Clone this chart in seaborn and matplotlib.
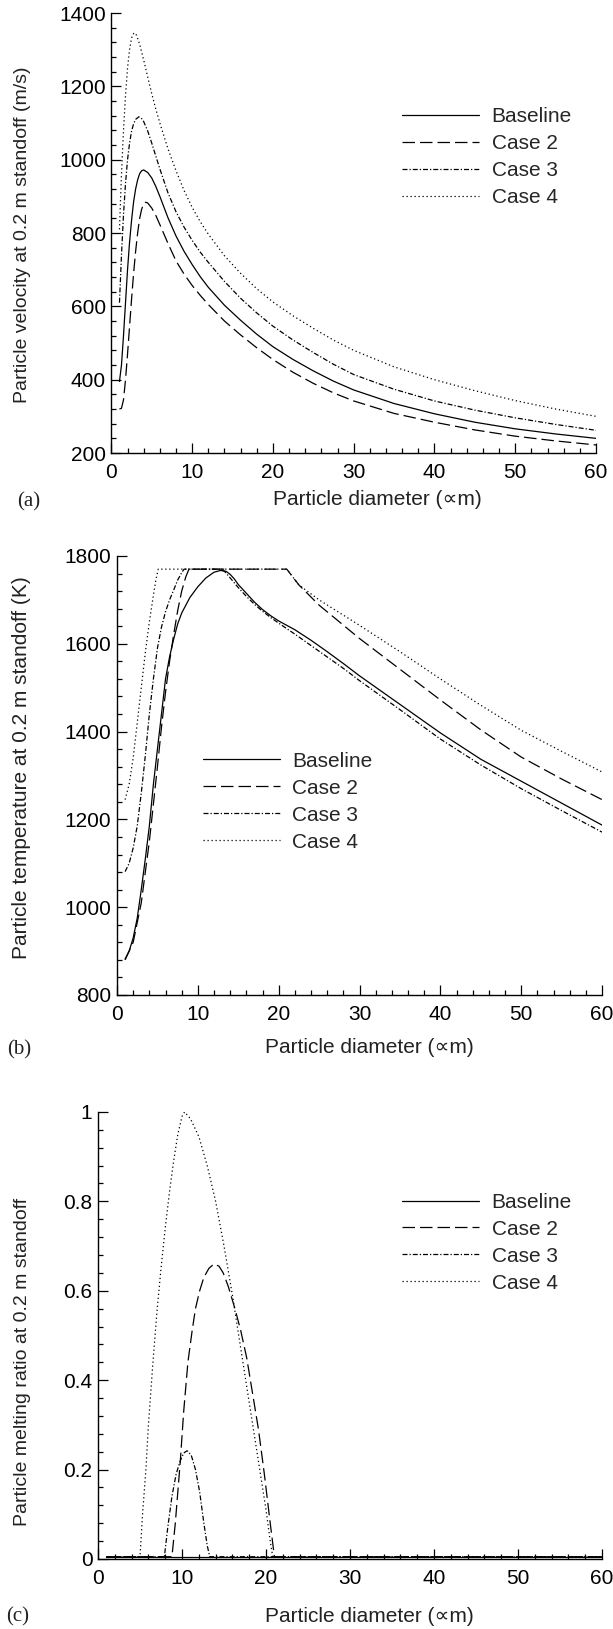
import matplotlib
matplotlib.use('Agg')
import matplotlib.pyplot as plt
from matplotlib.ticker import AutoMinorLocator, FormatStrFormatter
import seaborn as sns

# (a) particle velocity at 0.2 m standoff (m/s)
vel_base_x = [1, 1.25, 1.5, 1.75, 2, 2.25, 2.5, 2.75, 3, 3.25, 3.5, 3.75, 4, 4.5, 5, 5.5, 6, 7, 8, 9, 10, 11,
              12, 14, 16, 18, 20, 22.5, 25, 27.5, 30, 35, 40, 45, 50, 55, 60]
vel_base_y = [395, 440, 520, 610, 700, 775, 835, 885, 920, 945, 962, 970, 972, 965, 950, 927, 900, 842, 792, 750, 714, 681,
              652, 603, 562, 524, 490, 455, 424, 396, 372, 335, 307, 284, 266, 252, 240]
vel_c2_x = [1, 1.25, 1.5, 1.75, 2, 2.25, 2.5, 2.75, 3, 3.25, 3.5, 3.75, 4, 4.25, 4.5, 5, 5.5, 6, 7, 8, 9, 10, 11,
            12, 14, 16, 18, 20, 22.5, 25, 27.5, 30, 35, 40, 45, 50, 55, 60]
vel_c2_y = [320, 322, 345, 400, 470, 545, 620, 690, 750, 800, 840, 865, 880, 884, 882, 868, 848, 823, 772, 724, 688, 657, 630,
            605, 560, 522, 487, 455, 420, 390, 364, 342, 308, 284, 263, 246, 233, 222]
vel_c3_x = [1, 1.25, 1.5, 1.75, 2, 2.25, 2.5, 2.75, 3, 3.4, 3.75, 4, 4.5, 5, 5.5, 6, 7, 8, 9, 10, 11,
            12, 14, 16, 18, 20, 22.5, 25, 27.5, 30, 35, 40, 45, 50, 55, 60]
vel_c3_y = [610, 740, 850, 935, 1000, 1045, 1078, 1098, 1110, 1117, 1112, 1104, 1078, 1045, 1010, 975, 910, 858, 816, 780, 748,
            720, 668, 622, 582, 546, 508, 474, 442, 414, 374, 342, 317, 296, 278, 262]
vel_c4_x = [1, 1.25, 1.5, 1.75, 2, 2.25, 2.5, 2.8, 3.1, 3.5, 4, 4.5, 5, 5.5, 6, 7, 8, 9, 10, 11,
            12, 14, 16, 18, 20, 22.5, 25, 27.5, 30, 35, 40, 45, 50, 55, 60]
vel_c4_y = [810, 960, 1080, 1175, 1250, 1300, 1332, 1346, 1340, 1315, 1272, 1225, 1180, 1138, 1100, 1030, 970, 916, 870, 831,
            797, 738, 690, 648, 612, 574, 540, 508, 480, 435, 400, 370, 343, 320, 300]

# (b) particle temperature at 0.2 m standoff (K)
tmp_base_x = [1, 1.5, 2, 2.5, 3, 3.5, 4, 4.5, 5, 5.5, 6, 6.5, 7, 7.5, 8, 9, 10, 11, 12, 12.8, 13.5, 14, 14.5, 15,
              16, 17, 18, 19, 20, 22, 24, 26, 28, 30, 35, 40, 45, 50, 55, 60]
tmp_base_y = [882, 900, 930, 975, 1040, 1110, 1185, 1280, 1360, 1440, 1520, 1570, 1610, 1645, 1670, 1705, 1730, 1750, 1763, 1767, 1765, 1758, 1748, 1735,
              1715, 1695, 1678, 1664, 1652, 1632, 1608, 1582, 1555, 1527, 1462, 1397, 1337, 1287, 1237, 1187]
tmp_c2_x = [1, 2, 3, 4, 5, 5.5, 6, 6.5, 7, 7.5, 8, 8.5, 8.9, 21, 22.5, 25, 30, 35, 40, 45, 50, 55, 60]
tmp_c2_y = [880, 920, 1010, 1150, 1320, 1410, 1490, 1560, 1620, 1675, 1720, 1752, 1770, 1770, 1734, 1688, 1612, 1542, 1472, 1404, 1342, 1292, 1245]
tmp_c3_x = [1, 1.5, 2, 2.5, 3, 3.5, 4, 4.5, 5, 5.5, 6, 6.5, 7, 7.5, 8, 8.3, 12.8, 13.3, 14, 15,
            16, 17, 18, 19, 20, 22, 24, 26, 28, 30, 35, 40, 45, 50, 55, 60]
tmp_c3_y = [1081, 1100, 1135, 1185, 1260, 1345, 1440, 1520, 1590, 1638, 1673, 1700, 1722, 1745, 1762, 1770, 1770, 1765, 1750, 1728,
            1708, 1690, 1674, 1660, 1647, 1622, 1596, 1570, 1544, 1516, 1450, 1383, 1324, 1270, 1220, 1171]
tmp_c4_x = [1, 1.5, 2, 2.5, 3, 3.5, 4, 4.5, 4.8, 5.1, 21, 22.5, 25, 30, 35, 40, 45, 50, 55, 60]
tmp_c4_y = [1245, 1280, 1340, 1420, 1500, 1580, 1650, 1710, 1745, 1770, 1770, 1734, 1700, 1642, 1582, 1520, 1460, 1403, 1355, 1308]

# (c) particle melting ratio at 0.2 m standoff
mr_base_x = [1, 60]
mr_base_y = [0.005, 0.005]
mr_c2_x = [1, 8.8, 9.2, 9.8, 10.2, 10.7, 11.2, 11.6, 12.1, 12.6, 13.2, 13.8, 14.4, 14.9, 15.5, 16.3, 17, 17.7,
           18.4, 19.1, 19.8, 20.5, 21.0, 60]
mr_c2_y = [0.005, 0.005, 0.08, 0.22, 0.33, 0.44, 0.51, 0.56, 0.60, 0.63, 0.65, 0.66, 0.655, 0.64, 0.61, 0.56, 0.51, 0.45,
           0.37, 0.29, 0.19, 0.08, 0.005, 0.005]
mr_c3_x = [1, 7.9, 8.3, 8.8, 9.3, 9.8, 10.2, 10.6, 11.1, 11.6, 12.1, 12.6, 13.0, 13.3, 60]
mr_c3_y = [0.005, 0.005, 0.07, 0.14, 0.19, 0.22, 0.237, 0.242, 0.232, 0.2, 0.15, 0.08, 0.03, 0.005, 0.005]
mr_c4_x = [1, 5.0, 5.3, 5.7, 6.0, 6.5, 7.0, 7.5, 8.0, 8.5, 9.0, 9.5, 10.0, 10.3, 11, 12, 13, 14, 15, 16, 17,
           18, 19, 20, 20.5, 20.8, 60]
mr_c4_y = [0.005, 0.005, 0.1, 0.2, 0.30, 0.43, 0.55, 0.65, 0.74, 0.82, 0.89, 0.95, 0.99, 1.0, 0.985, 0.945, 0.88, 0.8, 0.7, 0.59, 0.47,
           0.35, 0.23, 0.11, 0.04, 0.005, 0.005]

case_names = ['Baseline', 'Case 2', 'Case 3', 'Case 4']
line_styles = ['-', (0, (10, 4)), (0, (4, 1.6, 1, 1.6)), (0, (1, 2.2))]
xlabel_text = 'Particle diameter (\u221dm)'

sns.set_theme(style='white')
plt.rcParams['font.family'] = ['Liberation Sans', 'DejaVu Sans']
plt.rcParams['axes.linewidth'] = 1.0

fig = plt.figure(figsize=(6.13, 16.29), dpi=100)
ax_a = fig.add_axes([0.1817, 0.7219, 0.7906, 0.2701])
ax_b = fig.add_axes([0.1909, 0.3892, 0.7912, 0.2695])
ax_c = fig.add_axes([0.1599, 0.0430, 0.8222, 0.2744])


def draw(ax, series):
    for (xs, ys), name, ls in zip(series, case_names, line_styles):
        sns.lineplot(x=xs, y=ys, ax=ax, color='black', linewidth=0.9,
                     linestyle=ls, label=name, sort=False)


def style(ax, ylim, ylabel, ylab_size, ylab_pos, xlab_pos, leg_pos):
    ax.set_xlim(0, 60)
    ax.set_ylim(*ylim)
    for s in ['top', 'right']:
        ax.spines[s].set_visible(False)
    for s in ['left', 'bottom']:
        ax.spines[s].set_color('black')
    ax.xaxis.set_minor_locator(AutoMinorLocator(5))
    ax.yaxis.set_minor_locator(AutoMinorLocator(5))
    ax.tick_params(which='both', direction='in', color='black', width=0.9,
                   left=True, bottom=True)
    ax.tick_params(which='major', length=7, labelsize=15, colors='black')
    ax.tick_params(which='minor', length=3.5)
    ax.tick_params(axis='x', pad=7)
    ax.tick_params(axis='y', pad=4)
    ax.set_xlabel(xlabel_text, fontsize=15, color='#222222')
    ax.set_ylabel(ylabel, fontsize=ylab_size, color='#222222')
    ax.xaxis.set_label_coords(*xlab_pos)
    ax.yaxis.set_label_coords(*ylab_pos)
    h, l = ax.get_legend_handles_labels()
    ax.legend(h, l, loc='upper left', bbox_to_anchor=leg_pos, frameon=False,
              fontsize=15, handlelength=3.7, handletextpad=0.6,
              labelspacing=0.38, borderpad=0, borderaxespad=0)


draw(ax_a, [(vel_base_x, vel_base_y), (vel_c2_x, vel_c2_y),
            (vel_c3_x, vel_c3_y), (vel_c4_x, vel_c4_y)])
style(ax_a, (200, 1400), 'Particle velocity at 0.2 m standoff (m/s)', 14,
      (-0.166, 0.495), (0.548, -0.084), (0.6, 0.786))
ax_a.set_yticks([200, 400, 600, 800, 1000, 1200, 1400])

draw(ax_b, [(tmp_base_x, tmp_base_y), (tmp_c2_x, tmp_c2_y),
            (tmp_c3_x, tmp_c3_y), (tmp_c4_x, tmp_c4_y)])
style(ax_b, (800, 1800), 'Particle temperature at 0.2 m standoff (K)', 15,
      (-0.177, 0.517), (0.52, -0.098), (0.177, 0.554))
ax_b.set_yticks([800, 1000, 1200, 1400, 1600, 1800])

draw(ax_c, [(mr_base_x, mr_base_y), (mr_c2_x, mr_c2_y),
            (mr_c3_x, mr_c3_y), (mr_c4_x, mr_c4_y)])
style(ax_c, (0, 1), 'Particle melting ratio at 0.2 m standoff', 14,
      (-0.133, 0.44), (0.538, -0.107), (0.603, 0.819))
ax_c.set_yticks([0, 0.2, 0.4, 0.6, 0.8, 1])
ax_c.yaxis.set_major_formatter(FormatStrFormatter('%g'))

for ax in [ax_a, ax_b, ax_c]:
    ax.set_xticks([0, 10, 20, 30, 40, 50, 60])

for lab, xf, yf in [('(a)', 0.046, 0.6918), ('(b)', 0.031, 0.3554), ('(c)', 0.029, 0.0075)]:
    fig.text(xf, yf, lab, ha='center', va='center', fontsize=15,
             family=['Liberation Serif', 'DejaVu Serif'], color='#222222')

fig.savefig('out.png', dpi=100)
